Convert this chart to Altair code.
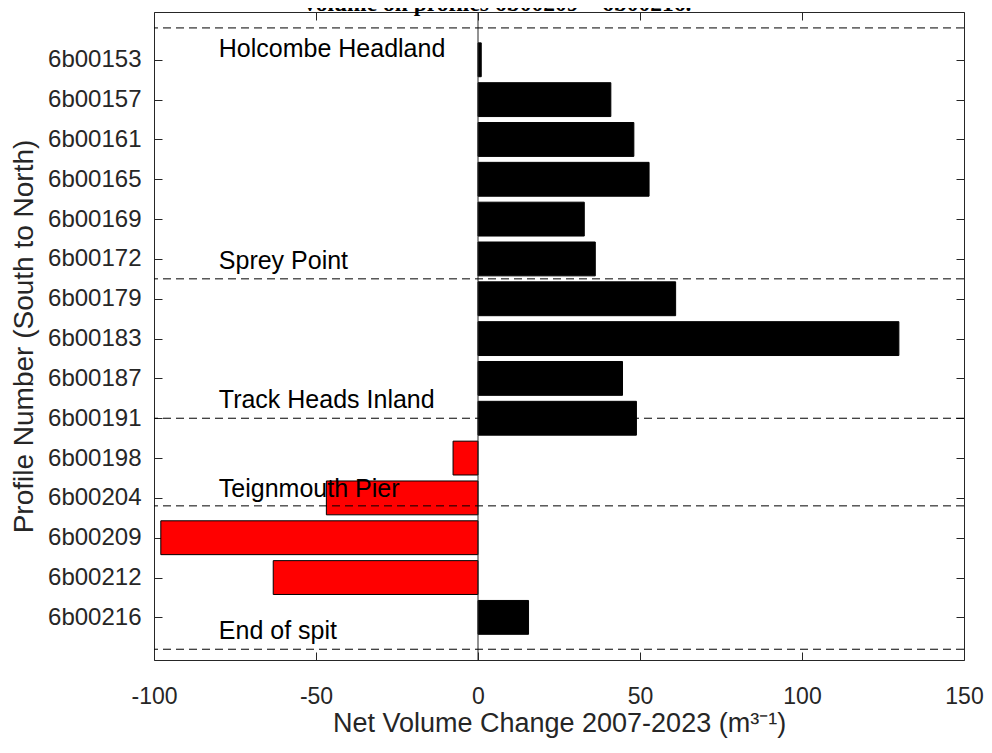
import altair as alt
import pandas as pd

# ---------------- data ----------------
profiles = ["6b00153", "6b00157", "6b00161", "6b00165", "6b00169", "6b00172",
            "6b00179", "6b00183", "6b00187", "6b00191", "6b00198", "6b00204",
            "6b00209", "6b00212", "6b00216"]
net_change = [1.0, 41.0, 48.1, 52.8, 32.8, 36.2,
              61.0, 129.9, 44.6, 48.9, -7.7, -46.8,
              -97.9, -63.2, 15.6]

section_names = ["Holcombe Headland", "Sprey Point", "Track Heads Inland",
                 "Teignmouth Pier", "End of spit"]
section_line_pos = [0.2, 6.5, 10.0, 12.2, 15.8]
section_label_pos = [0.94, 6.25, 9.74, 11.98, 15.54]
section_label_x = [-80, -80, -80, -80, -80]

caption_text = ["volume on profiles 6b00209 – 6b00216."]
baseline_value = [0]
x_ticks = [-100, -50, 0, 50, 100, 150]
y_ticks = list(range(1, len(profiles) + 1))

bar_half_width = 0.425

bars_df = pd.DataFrame({"profile": profiles, "pos": y_ticks, "value": net_change})
lines_df = pd.DataFrame({"pos": section_line_pos})
labels_df = pd.DataFrame({"name": section_names, "pos": section_label_pos,
                          "x": section_label_x})
zero_df = pd.DataFrame({"x": baseline_value})
caption_df = pd.DataFrame({"t": caption_text})

# ---------------- styling ----------------
FONT = "Liberation Sans"
AX = "#262626"
W, H = 810, 648

xscale = alt.Scale(domain=[-100, 150], nice=False, zero=False)
yscale = alt.Scale(domain=[-0.2, 16.07], reverse=True, nice=False, zero=False)

label_expr = "[" + ",".join(f"'{p}'" for p in profiles) + "][datum.value - 1]"


def tick_axis(orient, values):
    return alt.Axis(orient=orient, offset=-8, tickSize=8, ticks=True,
                    labels=False, domain=False, grid=False, title=None,
                    tickColor=AX, tickWidth=1, values=values)


bars = alt.Chart(bars_df).transform_calculate(
    y0=f"datum.pos - {bar_half_width}",
    y1=f"datum.pos + {bar_half_width}",
).mark_bar(stroke="black", strokeWidth=1).encode(
    x=alt.X("value:Q", scale=xscale,
            axis=alt.Axis(orient="bottom", values=x_ticks,
                          labelExpr="toString(datum.value)",
                          title="Net Volume Change 2007-2023 (m³⁻¹)",
                          ticks=False, tickSize=0, domain=False, grid=False,
                          labelFont=FONT, labelFontSize=23, labelColor=AX,
                          labelPadding=25, labelFlush=False, labelOverlap=False,
                          titleFont=FONT, titleFontSize=27, titleFontWeight="normal",
                          titleColor=AX, titlePadding=2)),
    x2=alt.datum(0),
    y=alt.Y("y0:Q", scale=yscale,
            axis=alt.Axis(orient="left", values=y_ticks, labelExpr=label_expr,
                          title="Profile Number (South to North)",
                          ticks=False, tickSize=0, domain=False, grid=False,
                          labelFont=FONT, labelFontSize=24, labelColor=AX,
                          labelPadding=13, labelOverlap=False,
                          titleFont=FONT, titleFontSize=28, titleFontWeight="normal",
                          titleColor=AX, titlePadding=9)),
    y2="y1:Q",
    color=alt.condition("datum.value < 0", alt.value("#ff0000"), alt.value("#000000")),
)

zero_rule = alt.Chart(zero_df).mark_rule(color=AX, strokeWidth=1).encode(
    x=alt.X("x:Q", scale=xscale, axis=tick_axis("bottom", x_ticks)),
)

dashed = alt.Chart(lines_df).mark_rule(color="black", strokeWidth=1,
                                       strokeDash=[8, 5]).encode(
    y=alt.Y("pos:Q", scale=yscale, axis=tick_axis("left", y_ticks)),
)

texts = alt.Chart(labels_df).mark_text(align="left", baseline="alphabetic",
                                       font=FONT, fontSize=25, color="black").encode(
    x=alt.X("x:Q", scale=xscale, axis=tick_axis("top", x_ticks)),
    y=alt.Y("pos:Q", scale=yscale, axis=tick_axis("right", y_ticks)),
    text="name:N",
)

# partially visible caption line above the plot (cut off at the top, as in the source)
caption = alt.Chart(caption_df).mark_text(
    align="left", baseline="alphabetic", font="Liberation Serif",
    fontSize=23.5, fontWeight="bold", color="black",
).encode(x=alt.value(150), y=alt.value(-1), text="t:N")

chart = alt.layer(bars, zero_rule, dashed, texts, caption).resolve_axis(
    x="independent", y="independent"
).properties(
    width=W, height=H,
    autosize=alt.AutoSizeParams(type="none"),
    padding={"left": 146, "top": 4, "right": 20, "bottom": 85},
    background="white",
).configure_view(stroke=AX, strokeWidth=1)

chart.save("out.html", embed_options={"renderer": "svg", "actions": False})
